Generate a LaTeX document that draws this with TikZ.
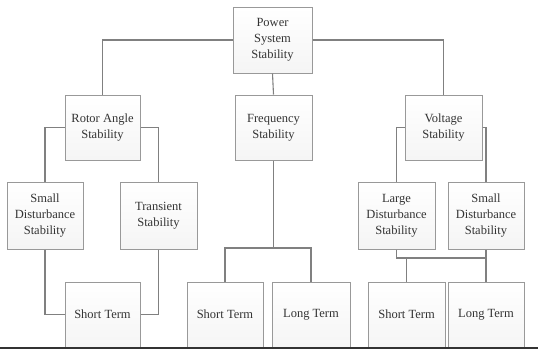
\documentclass[tikz,border=0pt]{standalone}
\usepackage{fontspec}
\setmainfont{Liberation Serif}
\usetikzlibrary{shadows}
\begin{document}
\begin{tikzpicture}[x=1pt,y=-1pt,
  box/.style={draw=black!40, line width=1pt, top color=white, bottom color=black!4,
    text=black!80, align=center, inner sep=1pt,
    font=\fontsize{12.5}{16}\selectfont,
    drop shadow={shadow xshift=1.3pt, shadow yshift=-1.3pt, fill=black!55, opacity=1}},
  conn/.style={draw=black!50, line width=1.1pt}
]
\useasboundingbox (0,0) rectangle (538,349);
\fill[white] (0,0) rectangle (538,349);

\node[box, minimum width=79pt, minimum height=66pt] (pss) at (272.5,40) {Power\\System\\Stability};
\node[box, minimum width=75pt, minimum height=65pt] (rot) at (102.5,127.5) {Rotor Angle\\Stability};
\node[box, minimum width=77pt, minimum height=65pt] (freq) at (273.5,127.5) {Frequency\\Stability};
\node[box, minimum width=77pt, minimum height=65pt] (volt) at (443.5,127.5) {Voltage\\Stability};

\node[box, minimum width=76pt, minimum height=67pt] (sd1) at (45,215.5) {Small\\Disturbance\\Stability};
\node[box, minimum width=77pt, minimum height=67pt] (trans) at (158.5,215.5) {Transient\\Stability};
\node[box, minimum width=77pt, minimum height=67pt] (lds) at (396.5,215.5) {Large\\Disturbance\\Stability};
\node[box, minimum width=76pt, minimum height=67pt] (sd2) at (486,215.5) {Small\\Disturbance\\Stability};

\node[box, minimum width=75pt, minimum height=65pt] (st1) at (102.5,314.5) {Short Term};
\node[box, minimum width=76pt, minimum height=65pt] (st2) at (225,314.5) {Short Term};
\node[box, minimum width=78pt, minimum height=65pt] (lt2) at (311,314.5) {Long Term};
\node[box, minimum width=77pt, minimum height=65pt] (st3) at (406.5,314.5) {Short Term};
\node[box, minimum width=76pt, minimum height=65pt] (lt3) at (486,314.5) {Long Term};

\coordinate (fbar) at (273.5,248);
\coordinate (vbar) at (441,258);
\coordinate (bl) at (0,348);
\coordinate (br) at (538,348);

\draw[conn] (pss.west) -| (rot.north);
\draw[conn] (pss.east) -| (volt.north);
\draw[conn] (pss.south) -- (freq.north);

\draw[conn] (rot.west) -| (sd1.north);
\draw[conn] (rot.east) -| (trans.north);
\draw[conn] (volt.west) -| (lds.north);
\draw[conn] (volt.east) -| (sd2.north);

\draw[conn] (sd1.south) |- (st1.west);
\draw[conn] (trans.south) |- (st1.east);

\draw[conn] (freq.south) -- (fbar);
\draw[conn] (st2.north) |- (fbar) -| (lt2.north);

\draw[conn] (lds.south) |- (vbar) -| (sd2.south);
\draw[conn] (st3.north) -- (st3.north |- vbar);
\draw[conn] (lt3.north) -- (lt3.north |- vbar);

\draw[black!80, line width=1.2pt] (bl) -- (br);
\end{tikzpicture}
\end{document}
